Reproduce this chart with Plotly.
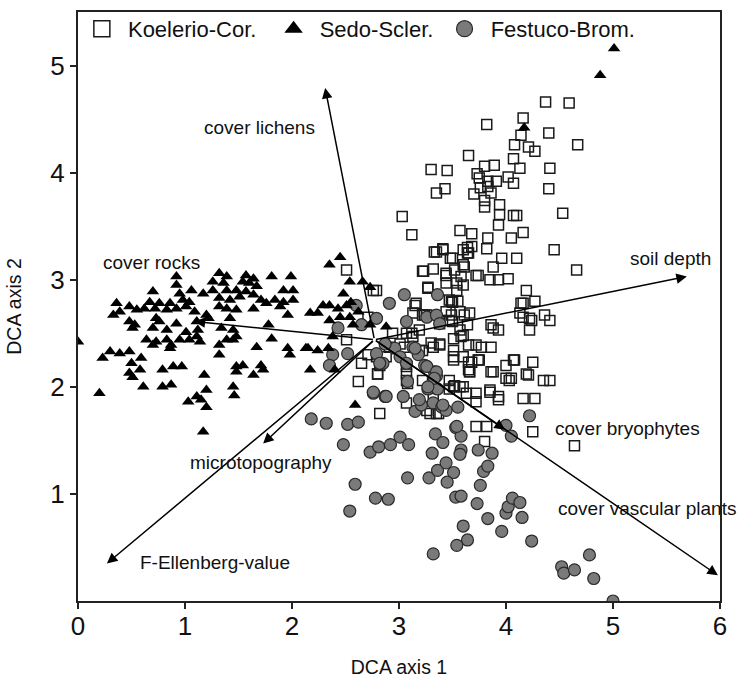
import plotly.graph_objects as go

# ---------------- data ----------------
koel_x = [4.37,4.59,4.16,3.82,4.40,4.14,4.08,4.21,4.27,4.67,3.65,4.07,4.13,3.30,3.45,3.89,4.41,3.73,3.80,3.75,
          3.83,3.91,4.02,4.07,3.43,3.35,4.40,3.83,3.86,3.80,3.94,3.80,4.07,4.53,3.03,3.94,3.93,3.12,3.57,3.68,
          4.05,4.16,3.83,3.33,3.41,3.48,3.60,3.65,3.82,3.96,4.10,4.45,3.88,3.23,3.32,3.44,3.52,3.61,3.74,3.85,
          3.93,4.02,4.66,3.27,3.44,3.60,3.54,3.16,3.47,3.55,4.19,4.16,4.27,3.22,3.44,3.57,3.38,3.50,3.64,4.16,
          4.24,4.36,4.41,3.88,3.93,4.22,2.79,3.13,3.19,3.07,4.10,3.64,3.70,3.76,
          3.15,3.49,4.14,3.24,3.49,3.66,4.13,4.22,3.86,2.94,3.12,3.30,3.38,3.51,3.60,3.65,3.72,3.77,3.86,2.88,
          3.05,3.22,3.51,3.51,3.51,3.65,3.74,3.88,4.00,4.07,4.25,3.65,4.00,4.05,4.21,4.35,4.41,3.60,3.72,3.51,
          3.85,3.93,4.16,4.27,2.82,3.29,3.37,3.47,3.32,3.72,3.82,4.25,
          3.80,4.64,3.85,3.93,4.03,4.19,4.08,3.75,3.86,3.66,3.52,3.63,3.72,3.07,3.08,2.80,
          2.51,2.76,3.22,2.71,2.51,2.71,2.65,2.79,2.82,2.80,2.62,
          2.91,3.01,3.13,3.19,3.07,3.07,3.22,3.32,3.38,3.60,3.68,3.66,3.47,3.57,3.07,3.26,3.35,
          3.35,3.41,3.50,3.60,3.68,3.64,3.44,3.58,3.54,3.72,3.27,3.26,3.38,3.50,3.47,3.57,3.61,3.58]
koel_y = [4.66,4.65,4.51,4.45,4.37,4.35,4.26,4.24,4.20,4.26,4.16,4.13,4.04,4.03,4.02,4.07,4.04,3.99,4.06,3.95,
          3.92,3.92,3.96,3.90,3.85,3.81,3.85,3.87,3.81,3.74,3.70,3.68,3.60,3.62,3.59,3.61,3.51,3.42,3.46,3.43,
          3.39,3.44,3.39,3.26,3.29,3.20,3.28,3.25,3.29,3.20,3.20,3.28,3.12,3.08,3.10,3.04,3.09,3.12,3.04,3.00,
          3.00,3.01,3.09,2.93,2.97,2.95,2.90,2.78,2.81,2.80,2.90,2.78,2.80,2.67,2.70,2.70,2.62,2.61,2.58,2.65,
          2.62,2.67,2.62,2.55,2.53,2.53,2.90,2.69,2.53,2.50,3.60,3.30,3.80,3.86,
          2.76,2.80,2.78,2.67,2.67,2.69,2.69,2.64,2.58,2.50,2.50,2.41,2.39,2.45,2.48,2.39,2.39,2.37,2.37,2.28,
          2.37,2.34,2.34,2.28,2.25,2.23,2.25,2.14,2.20,2.25,2.23,2.16,2.08,2.08,2.11,2.06,2.06,2.00,1.94,2.00,
          1.97,1.91,1.89,1.89,1.75,1.75,1.75,1.98,1.89,1.63,1.63,1.58,
          1.49,1.45,1.95,1.88,2.06,2.12,2.25,2.25,2.14,2.14,2.01,1.94,1.86,2.12,2.03,2.12,
          3.09,2.90,3.08,2.65,2.44,2.30,2.22,2.28,2.20,2.12,2.05,
          2.37,2.40,2.47,2.34,2.19,2.06,2.06,2.37,2.40,2.28,2.23,2.14,2.06,2.00,1.85,1.78,1.75,
          3.26,3.28,3.20,3.14,3.31,3.25,3.06,3.03,2.97,3.04,2.92,2.67,2.59,2.79,2.62,2.53,2.67,2.47]

sedo_x = [0.92,1.32,1.39,1.57,1.64,1.81,1.99,1.26,1.36,1.54,1.60,1.67,0.70,0.92,0.95,1.06,1.17,1.26,1.39,1.48,
          1.57,1.64,1.92,2.01,0.36,0.67,0.76,0.86,0.98,1.04,1.32,1.42,1.51,1.71,1.84,1.92,2.01,0.33,0.39,0.48,
          0.55,0.62,0.72,0.83,0.92,1.01,1.09,1.20,1.32,1.39,1.48,1.64,1.76,1.89,1.96,0.48,0.53,0.73,0.76,0.92,
          1.11,1.22,1.42,1.78,0.51,0.70,0.83,1.01,1.12,1.34,1.45,0.64,0.73,0.83,0.87,0.95,1.04,1.11,1.14,1.32,
          1.39,1.45,1.48,1.67,1.81,1.96,1.98,0.70,0.86,1.32,0.23,0.30,0.39,0.48,0.59,0.50,0.58,0.48,0.51,0.79,
          0.89,0.97,1.18,1.48,1.54,1.71,1.73,1.64,1.48,0.20,0.61,0.79,0.87,1.20,1.45,1.46,1.03,1.11,1.15,1.20,
          1.17,2.59,2.13,2.17,2.35,2.45,2.54,2.66,2.73,2.48,2.29,2.35,2.43,2.51,2.55,2.24,2.35,2.45,2.54,2.62,
          2.73,2.88,2.38,2.15,2.24,2.34,2.40,2.17,2.57,0.00,5.01,4.88,4.17]
sedo_y = [3.03,3.06,3.03,3.04,3.01,3.03,3.03,2.98,2.97,2.98,2.97,2.94,2.89,2.95,2.87,2.90,2.87,2.90,2.90,2.90,
          2.89,2.86,2.90,2.90,2.78,2.79,2.78,2.78,2.81,2.79,2.83,2.81,2.84,2.81,2.81,2.79,2.81,2.67,2.70,2.75,
          2.72,2.73,2.73,2.72,2.73,2.75,2.70,2.67,2.75,2.73,2.72,2.73,2.78,2.75,2.67,2.61,2.58,2.64,2.61,2.59,
          2.61,2.64,2.64,2.58,2.55,2.55,2.53,2.51,2.53,2.55,2.53,2.44,2.42,2.44,2.39,2.44,2.44,2.47,2.42,2.39,
          2.44,2.44,2.47,2.37,2.45,2.36,2.30,2.39,2.36,2.30,2.27,2.33,2.31,2.33,2.27,2.22,2.16,2.13,2.09,2.16,
          2.19,2.19,2.11,2.19,2.20,2.20,2.16,2.11,2.14,1.94,2.00,2.00,2.02,1.97,2.00,1.92,1.86,1.91,1.88,1.81,
          1.58,1.83,2.36,2.16,3.14,3.21,2.98,2.98,2.93,2.87,2.76,2.76,2.73,2.76,2.79,2.69,2.62,2.65,2.65,2.70,
          2.58,2.56,2.47,2.36,2.34,2.36,2.16,2.69,2.58,2.42,5.16,4.91,4.42]

fest_x = [2.18,2.32,2.52,2.62,2.48,2.73,2.81,2.92,3.01,3.09,2.59,2.78,2.90,2.54,3.08,3.28,3.36,3.44,3.51,3.45,
          3.31,3.34,3.41,3.53,3.58,3.58,3.57,3.53,3.58,3.73,3.76,3.79,3.83,3.87,3.74,3.83,3.60,3.64,3.54,3.32,
          3.96,4.00,4.02,4.06,4.13,4.15,4.24,4.00,4.05,4.22,
          2.79,2.85,2.96,3.13,3.18,3.24,3.33,3.35,3.08,3.27,3.36,2.87,2.76,3.04,3.15,3.21,3.32,3.40,3.44,3.55,
          4.52,4.54,4.64,4.78,4.82,5.00,
          3.05,2.91,3.36,2.60,2.79,3.07,2.43,2.65,3.26,3.35,3.38,2.87,3.15,2.52,2.38,2.35,2.82,3.01,3.07,3.26,
          3.35,3.33,3.27,2.76,2.88,3.19,3.41,3.54]
fest_y = [1.70,1.66,1.65,1.67,1.46,1.39,1.44,1.46,1.53,1.46,1.09,0.96,0.95,0.84,1.15,1.15,1.22,1.29,1.20,1.11,
          1.38,1.56,1.48,1.62,1.54,1.41,1.37,0.97,0.98,0.91,1.08,1.21,1.26,1.38,1.41,0.77,0.70,0.57,0.52,0.44,
          0.65,0.82,0.88,0.96,0.92,0.78,0.56,1.64,1.54,1.73,
          2.31,2.22,2.36,2.37,2.30,2.20,2.14,2.10,2.05,1.98,1.98,1.91,1.94,1.91,1.77,1.83,1.85,1.81,1.78,1.81,
          0.32,0.26,0.29,0.43,0.21,0.00,
          2.86,2.78,2.86,2.76,2.64,2.61,2.55,2.58,2.65,2.67,2.59,2.40,2.36,2.31,2.30,2.20,2.22,2.28,2.22,2.19,
          2.14,2.08,2.00,1.95,1.91,1.88,1.83,1.63]

# environmental vectors (common origin)
vec_origin = (2.77, 2.44)
vec_names = ["cover lichens", "cover rocks", "soil depth", "cover bryophytes",
             "cover vascular plants", "microtopography", "F-Ellenberg-value"]
vec_tip_x = [2.31, 1.09, 5.69, 3.99, 5.98, 1.73, 0.27]
vec_tip_y = [4.79, 2.61, 3.03, 1.60, 0.24, 1.47, 0.35]
vec_lab_x = [1.70, 0.69, 5.54, 5.14, 5.32, 1.71, 1.28]
vec_lab_y = [4.42, 3.16, 3.20, 1.61, 0.86, 1.29, 0.36]

group_names = ["Koelerio-Cor.", "Sedo-Scler.", "Festuco-Brom."]

x_ticks = [0, 1, 2, 3, 4, 5, 6]
x_ticklabels = ["0", "1", "2", "3", "4", "5", "6"]
y_ticks = [1, 2, 3, 4, 5]
y_ticklabels = ["1", "2", "3", "4", "5"]

FONT = "Liberation Sans, Arial, sans-serif"
NB = "\u00a0"

fig = go.Figure()

# data traces
fig.add_trace(go.Scatter(x=koel_x, y=koel_y, mode="markers", showlegend=False,
                         marker=dict(symbol="square-open", size=10, color="#1a1a1a",
                                     line=dict(width=1.5, color="#1a1a1a"))))
fig.add_trace(go.Scatter(x=fest_x, y=fest_y, mode="markers", showlegend=False,
                         marker=dict(symbol="circle", size=12, color="#7a7a7a",
                                     line=dict(width=1.2, color="#2a2a2a"))))
fig.add_trace(go.Scatter(x=sedo_x, y=sedo_y, mode="markers", showlegend=False,
                         marker=dict(symbol="triangle-up", size=11, color="black",
                                     line=dict(width=0))))

# legend entries
fig.add_trace(go.Scatter(x=[None], y=[None], mode="markers",
                         name=NB + group_names[0] + NB * 2,
                         marker=dict(symbol="square-open", size=20, color="#1a1a1a",
                                     line=dict(width=1.5, color="#1a1a1a"))))
fig.add_trace(go.Scatter(x=[None], y=[None], mode="markers",
                         name=NB + group_names[1] + NB,
                         marker=dict(symbol="triangle-up", size=20, color="black")))
fig.add_trace(go.Scatter(x=[None], y=[None], mode="markers",
                         name=NB + group_names[2],
                         marker=dict(symbol="circle", size=20, color="#7a7a7a",
                                     line=dict(width=1.2, color="#2a2a2a"))))

annotations = []
for tx, ty in zip(vec_tip_x, vec_tip_y):
    annotations.append(dict(x=tx, y=ty, xref="x", yref="y",
                            ax=vec_origin[0], ay=vec_origin[1], axref="x", ayref="y",
                            text="", showarrow=True, arrowhead=2, arrowsize=1.4,
                            arrowwidth=1.5, arrowcolor="black", standoff=0, startstandoff=0))
for name, lx, ly in zip(vec_names, vec_lab_x, vec_lab_y):
    annotations.append(dict(x=lx, y=ly, xref="x", yref="y", text=name, showarrow=False,
                            font=dict(family=FONT, size=19, color="#111"),
                            xanchor="center", yanchor="middle"))

fig.update_layout(
    width=739, height=678,
    margin=dict(l=78, r=19, t=12, b=77, autoexpand=False),
    paper_bgcolor="white", plot_bgcolor="white",
    font=dict(family=FONT, color="#111"),
    annotations=annotations,
    legend=dict(orientation="h", x=0.006, xanchor="left", y=1.007, yanchor="top",
                font=dict(family=FONT, size=22, color="#111"),
                bgcolor="rgba(0,0,0,0)", borderwidth=0),
    xaxis=dict(range=[0, 6], tickvals=x_ticks, ticktext=x_ticklabels,
               showgrid=False, zeroline=False, showline=True, linecolor="#222",
               linewidth=2, mirror=True, ticks="outside", ticklen=6, tickwidth=1.5,
               tickcolor="#222", ticklabelstandoff=-5,
               tickfont=dict(family=FONT, size=26, color="#111"),
               title=dict(text="DCA axis 1", font=dict(family=FONT, size=19.5, color="#111"),
                          standoff=20)),
    yaxis=dict(range=[0, 5.5], tickvals=y_ticks, ticktext=y_ticklabels,
               showgrid=False, zeroline=False, showline=True, linecolor="#222",
               linewidth=2, mirror=True, ticks="outside", ticklen=6, tickwidth=1.5,
               tickcolor="#222", tickfont=dict(family=FONT, size=26, color="#111"),
               title=dict(text="DCA axis 2", font=dict(family=FONT, size=19.5, color="#111"),
                          standoff=24)),
)

fig.write_html("out.html")
